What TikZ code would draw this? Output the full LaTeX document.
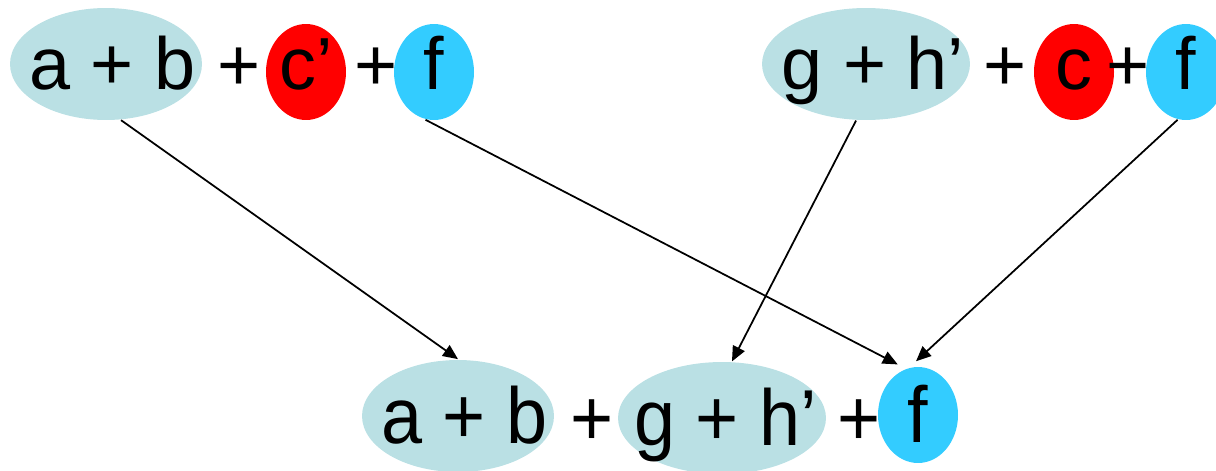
\documentclass[tikz,border=0pt]{standalone}
\usepackage{fontspec}
\usepackage{graphicx}
\setmainfont{Liberation Sans}
\usetikzlibrary{arrows.meta,shapes.geometric}

\definecolor{paleblue}{RGB}{186,224,228}
\definecolor{skyblue}{RGB}{51,204,255}
% text that does not widen its ellipse
\newcommand\ctext[2][0cm]{\makebox[0pt]{\hspace{#1}#2}}
% slightly taller letters of the resolvent
\newcommand\tall[1]{\scalebox{1}[1.075]{#1}}

\begin{document}
\begin{tikzpicture}[x=0.02cm,y=-0.02cm,>={Triangle[length=0.3cm,width=0.26cm]},line width=1pt,
    term/.style={ellipse,inner sep=0pt,text height=29.4pt,text depth=0pt,font=\fontsize{42}{50}\selectfont},
    group/.style={term,fill=paleblue,minimum height=2.24cm},
    lit/.style={term,minimum width=1.6cm,minimum height=1.92cm,text depth=9pt},
    plus/.style={inner sep=0pt,font=\fontsize{42}{50}\selectfont,anchor=base}]
  \useasboundingbox (0,0) rectangle (1216,470);
  % top left clause
  \node[group,minimum width=3.84cm] (ab1) at (106,64) {\ctext[0.25cm]{a + b}};
  \node[plus] (p1) at (239,90) {+};
  \node[lit,fill=red] (c1) at (306,72) {\ctext{c’}};
  \node[plus] (p2) at (376,90) {+};
  \node[lit,fill=skyblue] (f1) at (434,72) {\ctext{f}};
  % top right clause
  \node[group,minimum width=4.16cm] (gh1) at (866,64) {\ctext[0.28cm]{g + h’}};
  \node[plus] (p3) at (1005,90) {+};
  \node[lit,fill=red] (c2) at (1074,72) {\ctext{c}};
  \node[plus] (p4) at (1128,90) {+};
  \node[lit,fill=skyblue] (f2) at (1186,72) {\ctext{f}};
  % resolvent
  \begin{scope}[term/.append style={text height=31.5pt}]
    \node[group,minimum width=3.84cm] (ab2) at (458,416) {\ctext[0.25cm]{\tall{a + b}}};
    \node[plus] (p5) at (592,445) {\tall{+}};
    \node[group,minimum width=4.16cm] (gh2) at (722,418) {\ctext[0.15cm]{\tall{g + h’}}};
    \node[plus] (p6) at (859,445) {\tall{+}};
    \node[lit,fill=skyblue,text depth=0pt] (f3) at (918,415) {\ctext{\tall{f}}};
  \end{scope}

  \draw[->] (ab1.-75) -- (ab2.north);
  \draw[->,shorten >=5pt] (f1.-100) -- (f3.105);
  \draw[->] (gh1.-100) -- (gh2.80);
  \draw[->,shorten >=5pt] (f2.-100) -- (f3.100);
\end{tikzpicture}
\end{document}
